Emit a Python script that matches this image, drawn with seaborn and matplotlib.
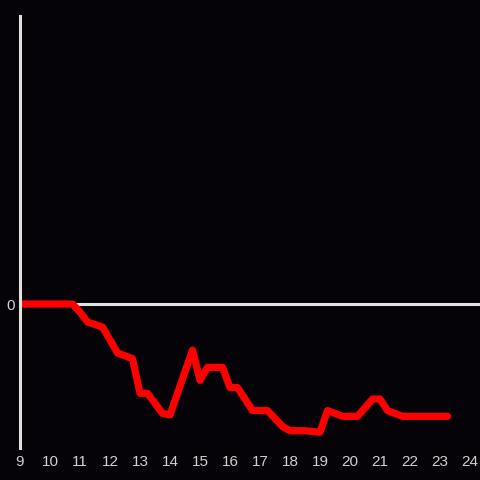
import pandas as pd
import seaborn as sns
import matplotlib.pyplot as plt

sns.set_theme(style='dark')
plt.rcParams['font.family'] = ['Liberation Sans', 'DejaVu Sans']

# Data (hour of day vs value)
hours = [9.0, 10.75, 11.0, 11.25, 11.75, 12.25, 12.75, 13.0, 13.25, 13.75,
         14.0, 14.75, 15.0, 15.25, 15.75, 16.0, 16.25, 16.75, 17.0, 17.25,
         17.75, 18.0, 18.5, 19.0, 19.25, 19.75, 20.25, 20.75, 21.0, 21.25,
         21.75, 23.25]
values = [0.0, 0.0, -0.056, -0.125, -0.16, -0.34, -0.38, -0.62, -0.62, -0.76,
          -0.77, -0.32, -0.53, -0.44, -0.44, -0.58, -0.58, -0.74, -0.74, -0.74,
          -0.85, -0.88, -0.88, -0.89, -0.74, -0.78, -0.78, -0.66, -0.66, -0.74,
          -0.78, -0.78]
x_ticks = list(range(9, 25))

df = pd.DataFrame({'hour': hours, 'value': values})

bg = '#050307'
fg = '#e0e0e0'

fig = plt.figure(figsize=(4.8, 4.8), dpi=100, facecolor=bg)
ax = fig.add_axes([20 / 480, 32 / 480, 460 / 480, 432 / 480])
ax.set_facecolor(bg)

ax.axhline(0, color=fg, lw=2.2, zorder=1)
sns.lineplot(data=df, x='hour', y='value', color='#ff0000', lw=5.2, ax=ax, zorder=3)

ax.set_xlim(9, 24.333)
ax.set_ylim(-1, 2)
ax.set_xticks(x_ticks)
ax.set_xticklabels([str(t) for t in x_ticks])
ax.set_yticks([0])
ax.set_yticklabels(['0'])
ax.set_xlabel('')
ax.set_ylabel('')
ax.grid(False)

for s in ['top', 'right', 'bottom']:
    ax.spines[s].set_visible(False)
ax.spines['left'].set_color(fg)
ax.spines['left'].set_linewidth(2.2)
ax.spines['left'].set_zorder(4)

ax.tick_params(axis='both', length=0, colors='#d0d0d0', labelsize=11)
ax.tick_params(axis='x', pad=5)
ax.tick_params(axis='y', pad=4)

plt.savefig('out.png', dpi=100, facecolor=bg)
